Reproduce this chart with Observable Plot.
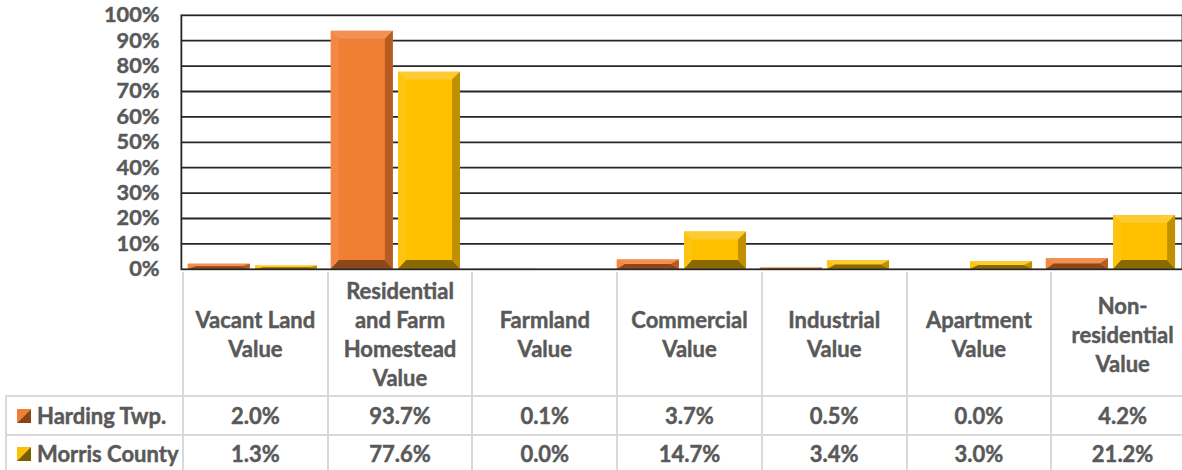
<!DOCTYPE html>
<html><head><meta charset="utf-8">
<script src="https://cdn.jsdelivr.net/npm/d3@7"></script>
<script src="https://cdn.jsdelivr.net/npm/@observablehq/plot@0.6"></script>
<style>
html,body{margin:0;padding:0;background:#fff;overflow:hidden;width:1182px;height:470px;}
#wrap{position:relative;width:1182px;height:470px;overflow:hidden;font-family:Lato,"Open Sans",sans-serif;font-weight:700;color:#595959;}
#wrap svg.chart{display:block;position:absolute;left:0;top:0;overflow:visible;}
svg.chart text{stroke:#595959;stroke-width:0.45px;}
.cell{position:absolute;box-sizing:border-box;display:flex;align-items:center;justify-content:center;text-align:center;white-space:pre-line;font-size:22px;line-height:29px;border-color:#d9d9d9;border-style:solid;border-width:0;-webkit-text-stroke:0.45px #595959;}
.lab{justify-content:flex-start;padding-left:10px;}
.mk{display:inline-block;flex:none;width:14px;height:14px;margin-right:6px;}
</style></head><body><div id="wrap"></div>
<script>
const categories = ["Vacant Land Value","Residential and Farm Homestead Value","Farmland Value","Commercial Value","Industrial Value","Apartment Value","Non-residential Value"];
const headerLabels = ["Vacant Land\nValue","Residential\nand Farm\nHomestead\nValue","Farmland\nValue","Commercial\nValue","Industrial\nValue","Apartment\nValue","Non-\nresidential\nValue"];
const seriesNames = ["Harding Twp.","Morris County"];
const harding = [0.020, 0.937, 0.001, 0.037, 0.005, 0.000, 0.042];
const morris  = [0.013, 0.776, 0.000, 0.147, 0.034, 0.030, 0.212];
const yTicks = [0, 0.1, 0.2, 0.3, 0.4, 0.5, 0.6, 0.7, 0.8, 0.9, 1.0];

const palettes = [
  {front:"#F07E33", top:"#F39155", left:"#F28844", right:"#B65C22", bottom:"#8C4819", light:"#F07E33", dark:"#8A4416"},
  {front:"#FFC000", top:"#FFCB33", left:"#FFC40F", right:"#BF9000", bottom:"#8A6A00", light:"#FFC000", dark:"#7A5E00"}
];

const hData = categories.map((c, i) => ({cat: c, value: harding[i]}));
const mData = categories.map((c, i) => ({cat: c, value: morris[i]}));

const chart = Plot.plot({
  width: 1196,
  height: 274,
  marginLeft: 183,
  marginRight: 0,
  marginTop: 15,
  marginBottom: 2,
  className: "chart",
  style: {fontFamily: "Lato, 'Open Sans', sans-serif", fontSize: "22px", fontWeight: "700", color: "#595959", background: "transparent", overflow: "visible"},
  x: {type: "band", domain: categories, padding: 0, round: false, axis: null},
  y: {domain: [0, 1], ticks: yTicks, tickFormat: d3.format(".0%"), tickSize: 0, tickPadding: 22, label: null},
  marks: [
    Plot.ruleY(yTicks.filter(d => d > 0 && d < 1), {stroke: "#262626", strokeWidth: 1.8}),
    Plot.barY(hData, {x: "cat", y: "value", fill: palettes[0].front, insetLeft: 7, insetRight: 75}),
    Plot.barY(mData, {x: "cat", y: "value", fill: palettes[1].front, insetLeft: 75, insetRight: 7}),
    Plot.frame({stroke: "#262626", strokeWidth: 1.8})
  ]
});
chart.classList.add("chart");

const wrap = document.getElementById("wrap");
wrap.appendChild(chart);

// bevel the bars drawn by Plot
const NS = "http://www.w3.org/2000/svg";
chart.querySelectorAll('g[aria-label="bar"]').forEach((g, gi) => {
  const p = palettes[gi];
  Array.from(g.querySelectorAll("rect")).forEach(r => {
    const x = +r.getAttribute("x"), y = +r.getAttribute("y");
    const w = +r.getAttribute("width"), h = +r.getAttribute("height");
    if (!(h > 0.6)) return;
    r.setAttribute("fill", p.front);
    const t = Math.min(8, h / 2), b = Math.min(9, h / 2), s = Math.min(8, w / 2);
    const polys = [
      [p.top, [[x, y], [x + w, y], [x + w - s, y + t], [x + s, y + t]]],
      [p.bottom, [[x, y + h], [x + w, y + h], [x + w - s, y + h - b], [x + s, y + h - b]]],
      [p.left, [[x, y], [x + s, y + t], [x + s, y + h - b], [x, y + h]]],
      [p.right, [[x + w, y], [x + w - s, y + t], [x + w - s, y + h - b], [x + w, y + h]]]
    ];
    polys.forEach(([fill, pts]) => {
      const pg = document.createElementNS(NS, "polygon");
      pg.setAttribute("points", pts.map(q => q.join(",")).join(" "));
      pg.setAttribute("fill", fill);
      g.appendChild(pg);
    });
  });
});

// data table below the plot, aligned on Plot's x scale
const xs = chart.scale("x");
const ys = chart.scale("y");
const bw = xs.bandwidth;
const top0 = ys.apply(0);
const headH = 124, rowH = 39;
const labelLeft = 5;

function cell(left, top, width, height, html, cls, borders) {
  const d = document.createElement("div");
  d.className = "cell " + (cls || "");
  Object.assign(d.style, {left: left + "px", top: top + "px", width: width + "px", height: height + "px"});
  d.style.borderWidth = borders;
  d.innerHTML = html;
  wrap.appendChild(d);
  return d;
}
const bwid = "2px";
const last = categories.length - 1;
categories.forEach((c, i) => {
  cell(xs.apply(c) - 1, top0, bw, headH, headerLabels[i], "", `0 ${i === last ? bwid : 0} 0 ${bwid}`);
});
const rows = [harding, morris];
rows.forEach((vals, ri) => {
  const top = top0 + headH + ri * rowH - 1;
  const firstX = xs.apply(categories[0]) - 1;
  const p = palettes[ri];
  const bottom = ri === rows.length - 1 ? bwid : 0;
  const marker = `<svg class="mk" viewBox="0 0 14 14"><polygon points="0,0 14,0 0,14" fill="${p.light}"/><polygon points="14,0 14,14 0,14" fill="${p.dark}"/></svg>`;
  cell(labelLeft, top, firstX - labelLeft, rowH, marker + seriesNames[ri], "lab", `${bwid} 0 ${bottom} ${bwid}`);
  categories.forEach((c, i) => {
    cell(xs.apply(c) - 1, top, bw, rowH, d3.format(".1%")(vals[i]), "", `${bwid} ${i === last ? bwid : 0} ${bottom} ${bwid}`);
  });
});
</script></body></html>
